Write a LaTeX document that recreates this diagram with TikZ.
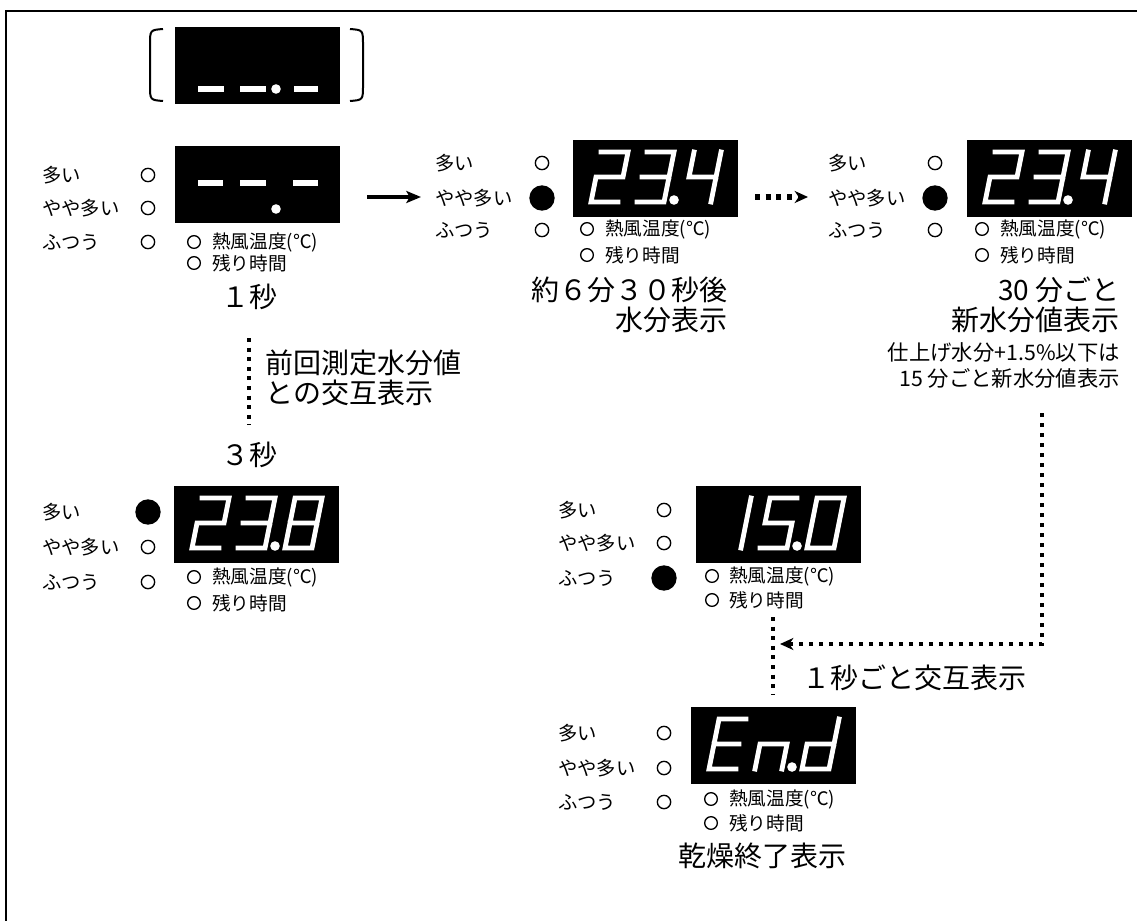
\documentclass[tikz,border=0pt]{standalone}
\usepackage{fontspec}
\setmainfont{Noto Sans CJK JP}
\usetikzlibrary{arrows.meta}
\tikzset{
  seg/.style={draw=white, line width=3.6pt, line join=miter, line cap=rect},
  disp/.style={fill=black, draw=none, minimum width=123.75pt, minimum height=57.75pt, inner sep=0pt, anchor=north west},
  lab/.style={anchor=west, inner sep=0pt, font=\fontsize{14.5}{16}\selectfont},
  sublab/.style={anchor=west, inner sep=0pt, font=\fontsize{14}{16}\selectfont},
  bigtxt/.style={inner sep=0pt, font=\fontsize{21}{24}\selectfont},
  midtxt/.style={inner sep=0pt, font=\fontsize{16}{18}\selectfont},
  offlamp/.style={draw=black, line width=1pt, circle, inner sep=0pt, minimum size=10pt},
  onlamp/.style={fill=black, circle, inner sep=0pt, minimum size=19pt},
  smalllamp/.style={draw=black, line width=1pt, circle, inner sep=0pt, minimum size=9.5pt},
  dotline/.style={line width=3pt, dash pattern=on 3pt off 4.2pt},
  dotarr/.style={line width=3pt, dash pattern=on 3pt off 4.5pt, -{Stealth[length=10pt,width=9pt,inset=3pt]}},
  solarr/.style={line width=2.4pt, -{Stealth[length=11pt,width=9pt,inset=2.5pt]}},
}
\newcommand{\lamps}[9]{%
  \node[lab] (#1a) at (#2,#4) {多い};
  \node[lab] (#1b) at (#2,#5) {やや多い};
  \node[lab] (#1c) at (#2,#6) {ふつう};
  \node[#7] (#1la) at (#3,#4) {};
  \node[#8] (#1lb) at (#3,#5) {};
  \node[#9] (#1lc) at (#3,#6) {};
}
\newcommand{\subrows}[5]{%
  \node[smalllamp] (#1sa) at (#2,#4) {};
  \node[sublab] (#1ta) at (#3,#4) {熱風温度(℃)};
  \node[smalllamp] (#1sb) at (#2,#5) {};
  \node[sublab] (#1tb) at (#3,#5) {残り時間};
}
\newcommand{\sdig}[3]{\begin{scope}[shift={(#1,#2)},xslant=0.2]\draw[seg] #3;\end{scope}}
\newcommand{\segdot}[2]{\fill[white] (#1,#2) circle[radius=3.6pt];}
\def\dTwo{(0,-50)--(27,-50)--(27,-25)--(0,-25)--(0,0)--(27,0)}
\def\dThree{(0,-50)--(27,-50)--(27,0)--(0,0) (0,-25)--(27,-25)}
\def\dFour{(0,-50)--(0,-25)--(27,-25) (27,-50)--(27,0)}
\def\dEight{(0,-50)--(27,-50)--(27,0)--(0,0)--cycle (0,-25)--(27,-25)}
\def\dOne{(27,-50)--(27,0)}
\def\dFive{(27,-50)--(0,-50)--(0,-25)--(27,-25)--(27,0)--(0,0)}
\def\dZero{(0,-50)--(27,-50)--(27,0)--(0,0)--cycle}
\def\dEE{(27,-50)--(0,-50)--(0,0)--(27,0) (0,-25)--(25,-25)}
\def\dNN{(0,0)--(0,-25)--(27,-25)--(27,0)}
\def\dDD{(27,-50)--(27,0)--(0,0)--(0,-25)--(27,-25)}
\begin{document}
\begin{tikzpicture}[x=0.75pt,y=-0.75pt]
\useasboundingbox (0,0) rectangle (1137,920);
\begin{scope}
\clip (0,0) rectangle (1137,920);
\draw[line width=1.5pt] (6,11) rectangle (1160,940);
\end{scope}

% top bracketed display
\node[disp] (p0disp) at (175,27) {};
\fill[white] (198,86) rectangle (224,92);
\fill[white] (240,86) rectangle (266,92);
\fill[white] (294,86) rectangle (318,92);
\segdot{276}{89}
\draw[line width=1.5pt] (163,29) .. controls (150,30) .. (150,45) -- (150,85) .. controls (150,100) .. (163,101);
\draw[line width=1.5pt] (350,29) .. controls (363,30) .. (363,45) -- (363,85) .. controls (363,100) .. (350,101);

% panel 1
\lamps{p1}{42}{148}{175}{208}{242}{offlamp}{offlamp}{offlamp}
\node[disp] (p1disp) at (175,146) {};
\fill[white] (198,180) rectangle (223,186);
\fill[white] (240,180) rectangle (266,186);
\fill[white] (293,180) rectangle (318,186);
\segdot{276}{209}
\subrows{p1}{194}{212}{242}{263}
\node[bigtxt] (t1s) at (249,297) {１秒};

% panel 2
\lamps{p2}{435}{542}{163}{198}{230}{offlamp}{onlamp}{offlamp}
\node[disp] (p2disp) at (573,140) {};
\sdig{591}{202}{\dTwo}
\sdig{637}{202}{\dThree}
\segdot{674}{200}
\sdig{684}{202}{\dFour}
\subrows{p2}{587}{605}{229}{255}
\node[bigtxt, anchor=east] (t2a) at (728,290) {約６分３０秒後};
\node[bigtxt, anchor=east] (t2b) at (728,320) {水分表示};

% panel 3
\lamps{p3}{828}{935}{163}{198}{230}{offlamp}{onlamp}{offlamp}
\node[disp] (p3disp) at (967,140) {};
\sdig{985}{202}{\dTwo}
\sdig{1031}{202}{\dThree}
\segdot{1068}{200}
\sdig{1078}{202}{\dFour}
\subrows{p3}{982}{1000}{229}{255}
\node[bigtxt, anchor=east] (t3a) at (1120,290) {30 分ごと};
\node[bigtxt, anchor=east] (t3b) at (1120,320) {新水分値表示};
\node[midtxt, anchor=east] (t3c) at (1120,352) {仕上げ水分+1.5\%以下は};
\node[midtxt, anchor=east] (t3d) at (1120,378) {15 分ごと新水分値表示};

% arrows between top panels
\coordinate (s12) at (367,197);
\coordinate (e12) at (421,197);
\draw[solarr] (s12) -- (e12);
\coordinate (s23) at (755,197);
\coordinate (e23) at (808,197);
\draw[dotarr, dash pattern=on 3.8pt off 4.2pt, line width=3.8pt] (s23) -- (e23);

% alternate display text
\node[bigtxt] (t3s) at (249,455) {３秒};
\draw[dotline, shorten <=30.75pt, shorten >=22.5pt] (t1s.center) -- (t3s.center);
\node[bigtxt, anchor=west] (talt1) at (265,363) {前回測定水分値};
\node[bigtxt, anchor=west] (talt2) at (265,393) {との交互表示};

% panel 4
\lamps{p4}{42}{148}{512}{547}{582}{onlamp}{offlamp}{offlamp}
\node[disp] (p4disp) at (174,486) {};
\sdig{192}{548}{\dTwo}
\sdig{238}{548}{\dThree}
\segdot{275}{546}
\sdig{285}{548}{\dEight}
\subrows{p4}{194}{212}{577}{603}

% panel 5
\lamps{p5}{558}{664}{510}{543}{578}{offlamp}{offlamp}{onlamp}
\node[disp] (p5disp) at (696,486) {};
\sdig{714}{548}{\dOne}
\sdig{760}{548}{\dFive}
\segdot{797}{546}
\sdig{807}{548}{\dZero}
\subrows{p5}{712}{729}{576}{600}

% panel 6
\lamps{p6}{558}{664}{733}{768}{802}{offlamp}{offlamp}{offlamp}
\node[disp] (p6disp) at (691,707) {};
\sdig{709}{769}{\dEE}
\sdig{755}{769}{\dNN}
\segdot{792}{767}
\sdig{802}{769}{\dDD}
\subrows{p6}{711}{729}{799}{823}
\node[bigtxt, anchor=west] (t6) at (678,856) {乾燥終了表示};

% bottom connectors
\coordinate (v5) at (773,617);
\draw[dotline, shorten >=9pt] (v5) -- (v5 |- p6disp.north);
\coordinate (c2) at (1042,413);
\coordinate (c3) at (780,644);
\draw[dotarr] (c2) |- (c3);
\node[bigtxt, anchor=west] (t56) at (802,678) {１秒ごと交互表示};
\end{tikzpicture}
\end{document}
